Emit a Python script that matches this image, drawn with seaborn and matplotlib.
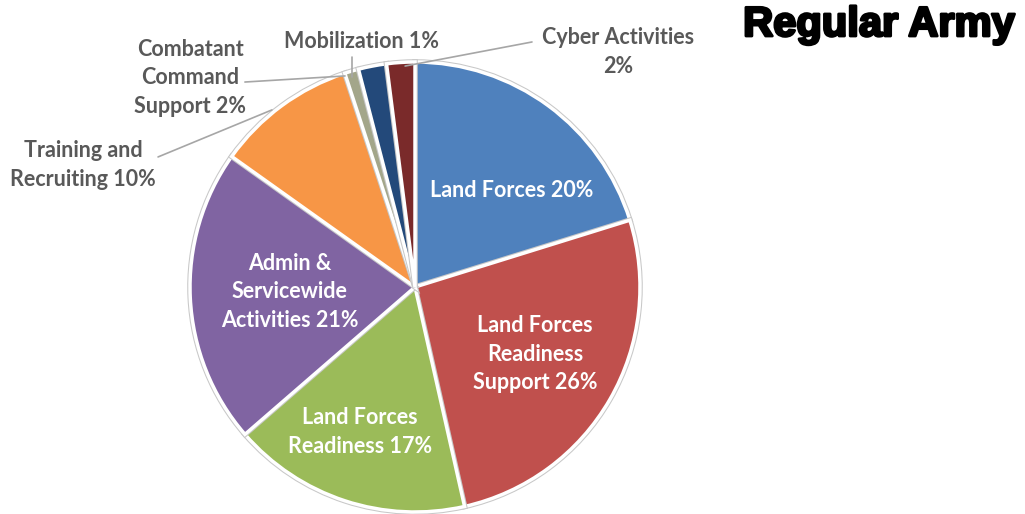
import matplotlib
matplotlib.use("Agg")
import matplotlib.pyplot as plt
import matplotlib.patheffects as pe
import seaborn as sns
import numpy as np

sns.set_theme(style="white")
plt.rcParams['font.family'] = ['Lato', 'DejaVu Sans']

# Data (slice order, clockwise from 12 o'clock)
categories = ["Land Forces", "Land Forces Readiness Support", "Land Forces Readiness",
              "Admin & Servicewide Activities", "Training and Recruiting",
              "Mobilization", "Combatant Command Support", "Cyber Activities"]
values = [20, 26, 17, 21, 10, 1, 2, 2]
labels = ["Land Forces 20%", "Land Forces\nReadiness\nSupport 26%", "Land Forces\nReadiness 17%",
          "Admin &\nServicewide\nActivities 21%", "Training and\nRecruiting 10%",
          "Mobilization 1%", "Combatant\nCommand\nSupport 2%", "Cyber Activities\n2%"]
colors = ["#4F81BD", "#C0504D", "#9BBB59", "#8064A2", "#F79646",
          "#A3A68A", "#23497A", "#7A2A2A"]
title = "Regular Army"

fig = plt.figure(figsize=(10.25, 5.14), dpi=100)
fig.patch.set_facecolor("white")
ax = fig.add_axes([190 / 1025, 2 / 514, 450 / 1025, 450 / 514])

wedges, _ = ax.pie(values, colors=colors, startangle=90, counterclock=False,
                   wedgeprops=dict(edgecolor="white", linewidth=2.5))
for w in wedges:
    w.set_path_effects([pe.Stroke(linewidth=4, foreground="#C8C8C8"), pe.Normal()])
ax.set_xlim(-1.0, 1.0)
ax.set_ylim(-1.0, 1.0)
ax.set_aspect("equal")
ax.axis("off")

inside_style = dict(color="white", fontsize=15.5, fontweight="bold", ha="center",
                    va="center", linespacing=1.45)
outside_style = dict(color="#595959", fontsize=15.5, fontweight="bold", ha="center",
                     va="center", linespacing=1.45)

inside_pos = [(0.431, 0.431), (0.533, -0.298), (-0.244, -0.644), (-0.556, -0.022)]
for i, (x, y) in enumerate(inside_pos):
    ax.text(x, y, labels[i], **inside_style)

# outside labels with leader lines
outside = [
    (4, (-1.476, 0.542), (-1.142, 0.578), (-0.636, 0.787)),
    (6, (-1.00, 0.929), (-0.756, 0.911), (-0.311, 0.938)),
    (5, (-0.236, 1.089), (-0.28, 1.022), (-0.28, 0.933)),
    (7, (0.902, 1.044), (0.52, 1.089), (-0.044, 0.982)),
]
for idx, tpos, lstart, lend in outside:
    ax.text(tpos[0], tpos[1], labels[idx], **outside_style)
    ax.annotate("", xy=lend, xytext=lstart,
                arrowprops=dict(arrowstyle="-", color="#A6A6A6", lw=1.2,
                                shrinkA=0, shrinkB=0))

fig.text(1015 / 1025, 1 - 25 / 514, title, family="Liberation Sans", fontsize=30,
         fontweight="bold", color="black", ha="right", va="center",
         path_effects=[pe.withStroke(linewidth=2, foreground="black")])

fig.savefig("out.png", dpi=100, facecolor="white")
